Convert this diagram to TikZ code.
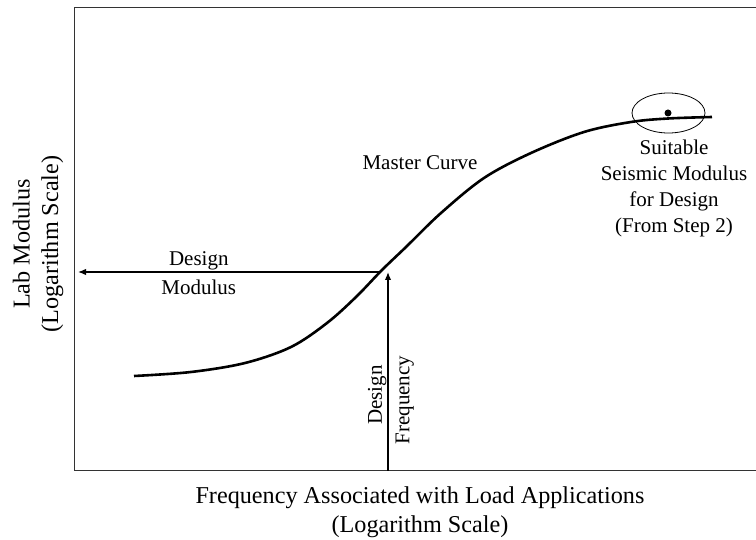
\documentclass[tikz,border=0pt]{standalone}
\usepackage{fontspec}
\setmainfont{Liberation Serif}
\usetikzlibrary{arrows.meta,shapes.geometric}

\begin{document}
\begin{tikzpicture}[x=1pt, y=-1pt, >={Latex[length=8pt,width=6.5pt]},
  txt/.style={font=\fontsize{21}{26}\selectfont, inner sep=0pt},
  axislbl/.style={font=\fontsize{24.2}{28.5}\selectfont, align=center, inner sep=0pt},
  guide/.style={->, line width=1.4pt}]
  \useasboundingbox (0,0) rectangle (756,540);

  % --- frame, open on the right ---
  \draw[black!80, line width=1.2pt] (756,7.5) -- (74.5,7.5) -- (74.5,470.5) -- (756,470.5);

  % --- master curve ---
  \draw[line width=2.6pt] plot[smooth, tension=0.55] coordinates {
    (134,376) (191,372) (245,363) (291,347) (327,323) (356,297) (382,270)
    (406,247) (441,213) (484,178) (531,153) (584,132) (631,122) (668,118.5) (712,117)};
  \node[txt, anchor=base] (master) at (420,170) {Master Curve};

  % --- seismic modulus picked on the curve ---
  \node[draw, ellipse, line width=0.8pt, minimum width=73pt, minimum height=40pt,
        inner sep=0pt] (target) at (668.5,113) {};
  \node[circle, fill, inner sep=0pt, minimum size=7pt] (seismic) at (668,113) {};
  \node[txt, align=center, anchor=north] (seislbl) at (674,139.7)
       {Suitable\\Seismic Modulus\\for Design\\(From Step 2)};

  % --- design frequency up to the curve, design modulus across ---
  \coordinate (design) at (380,272);
  \coordinate (modtip) at (78,272);
  \coordinate (freqbase) at (388,470.5);
  \coordinate (freqtip) at (388,272);
  \draw[guide] (design) -- node[txt, pos=0.6, above=1pt] {Design}
                          node[txt, pos=0.6, below=7pt] {Modulus} (modtip);
  \draw[guide] (freqbase) -- node[txt, sloped, pos=0.38, above=1pt] {Design}
                             node[txt, sloped, pos=0.355, below=7pt] {Frequency} (freqtip);

  % --- axis titles ---
  \node[axislbl, rotate=90] (ylbl) at (38,244)
       {Lab Modulus\\(Logarithm Scale)};
  \node[axislbl, anchor=north] (xlbl) at (420,486.8)
       {Frequency Associated with Load Applications\\(Logarithm Scale)};
\end{tikzpicture}
\end{document}
